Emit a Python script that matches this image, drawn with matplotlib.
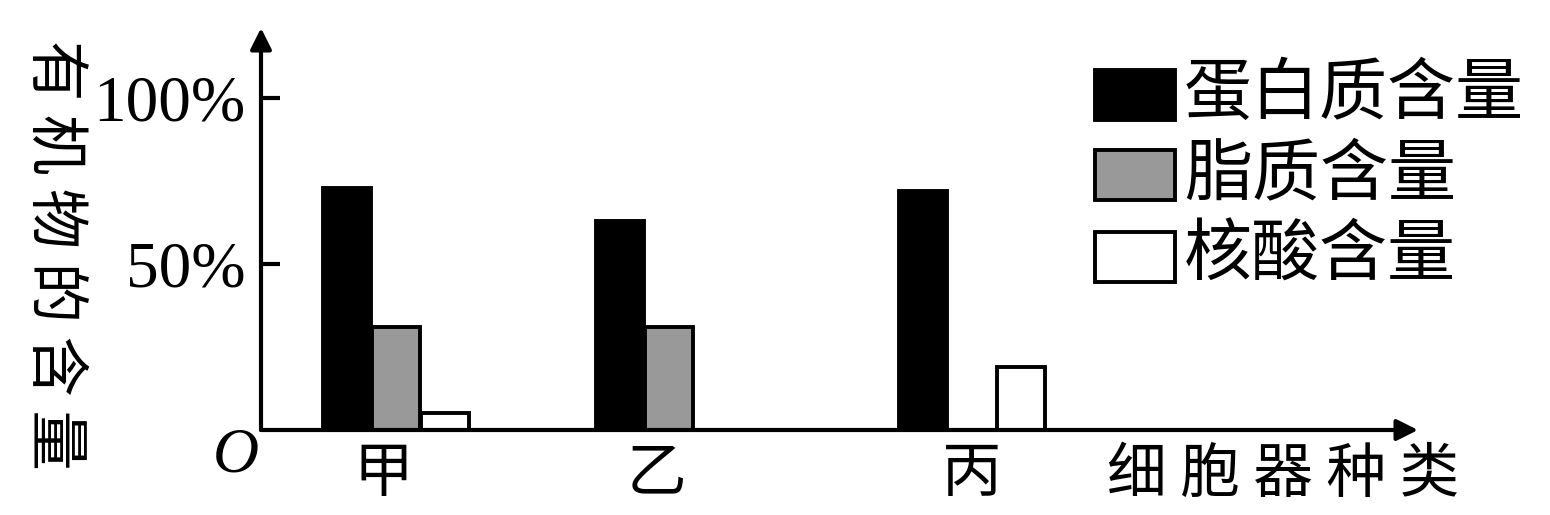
import matplotlib
matplotlib.use("Agg")
import matplotlib.pyplot as plt
from matplotlib.patches import Rectangle

# organelle categories and contents (%)
categories = ["甲", "乙", "丙"]
series_names = ["蛋白质含量", "脂质含量", "核酸含量"]
protein = [73, 63, 72]
lipid = [31, 31, 0]
nucleic = [5, 0, 19]

# layout (data x is pixel distance from y axis)
group_x = [135, 408, 711]
label_x = [122, 396, 711]
offsets = [-49, 0, 49]
bar_w = 48
colors = ["#000000", "#999999", "#ffffff"]

plt.rcParams['font.family'] = ['Noto Sans CJK SC', 'DejaVu Sans']

W, H = 1550, 515
fig = plt.figure(figsize=(W / 100, H / 100), dpi=100)
ax = fig.add_axes([261 / W, (H - 430) / H, 1157 / W, 402 / H])
ax.set_xlim(0, 1157)
ax.set_ylim(0, 402 / 3.32)

values = [protein, lipid, nucleic]
for vals, off, c in zip(values, offsets, colors):
    xs = [g + off for g in group_x]
    ax.bar(xs, vals, width=bar_w, color=c, edgecolor="black", linewidth=2.8, zorder=2)

for s in ax.spines.values():
    s.set_visible(False)

# axes with arrows
arrow = dict(arrowstyle="-|>", lw=3, color="black", mutation_scale=32, shrinkA=0, shrinkB=0)
ax.annotate("", xy=(1157, 0), xytext=(0, 0), arrowprops=arrow, annotation_clip=False, zorder=3)
ax.annotate("", xy=(0, 402 / 3.32), xytext=(0, 0), arrowprops=arrow, annotation_clip=False, zorder=3)

ax.set_yticks([50, 100])
ax.set_yticklabels(["50%", "100%"], family="Liberation Serif", fontsize=47)
ax.tick_params(axis="y", direction="in", length=14, width=3, pad=11)

ax.set_xticks(label_x)
ax.set_xticklabels(categories, fontsize=43)
ax.tick_params(axis="x", length=0, pad=10)

fig.text(54 / W, 1 - 255 / H, " ".join("有机物的含量"), rotation=-90,
         ha="center", va="center", fontsize=43.5)
fig.text(1283 / W, 1 - 475 / H, " ".join("细胞器种类"), ha="center", va="center", fontsize=43)
fig.text(236 / W, 1 - 456 / H, "O", family="Liberation Serif", style="italic",
         ha="center", va="center", fontsize=46)

# legend drawn by hand
box_tops = [70, 150, 232]
for name, c, top in zip(series_names, colors, box_tops):
    fig.patches.append(Rectangle((1095 / W, 1 - (top + 50) / H), 80 / W, 50 / H,
                                 transform=fig.transFigure, facecolor=c,
                                 edgecolor="black", linewidth=2.8))
    fig.text(1184 / W, 1 - (top + 25) / H, name, ha="left", va="center", fontsize=49)

fig.savefig("out.png", dpi=100)
